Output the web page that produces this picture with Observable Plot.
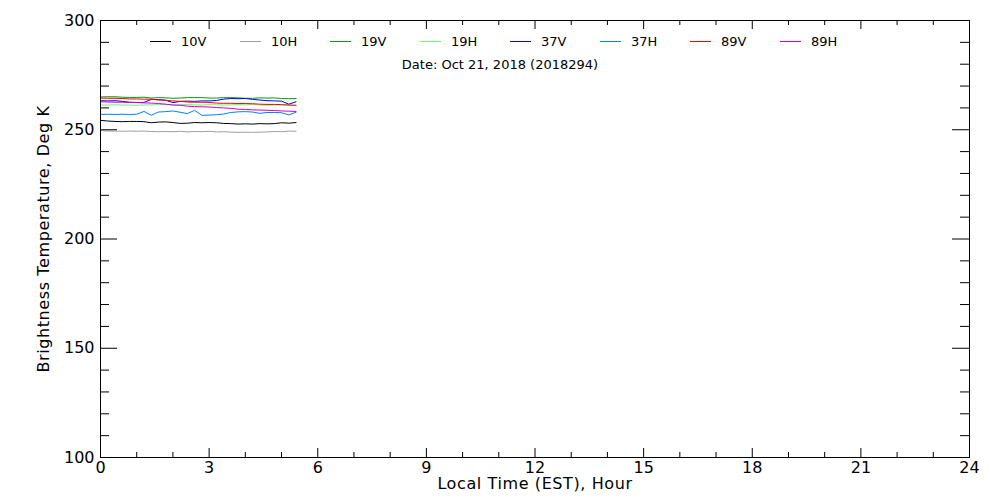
<!DOCTYPE html>
<html>
<head>
<meta charset="utf-8">
<script src="https://cdn.jsdelivr.net/npm/d3@7"></script>
<script src="https://cdn.jsdelivr.net/npm/@observablehq/plot@0.6"></script>
<style>
  html, body { margin: 0; padding: 0; background: #fff; }
  #wrap { position: relative; width: 1000px; height: 500px; font-family: "DejaVu Sans", sans-serif; }
  #legend { position: absolute; left: 150px; top: 33px; display: flex; font-size: 13px; color: #000; }
  .item { width: 90px; display: flex; align-items: center; height: 16px; }
  .sw { width: 21px; height: 0; border-top: 1px solid; margin-right: 10px; }
  #date { position: absolute; left: 0; width: 1000px; top: 57px; text-align: center; font-size: 13px; color: #000; }
  #chart svg g[aria-label="x-axis label"] text, #chart svg g[aria-label="y-axis label"] text { letter-spacing: 0.6px; }
</style>
</head>
<body>
<div id="wrap">
  <div id="chart"></div>
  <div id="legend"></div>
  <div id="date"></div>
</div>
<script>
// ---- data ----
const seriesNames = ["10V", "10H", "19V", "19H", "37V", "37H", "89V", "89H"];
const seriesColors = ["#000000", "#a0a0a0", "#00a000", "#66ff66", "#0000ff", "#0080ff", "#ff0000", "#d000d0"];
const hours = [0.0,0.2,0.4,0.6,0.8,1.0,1.2,1.4,1.6,1.8,2.0,2.2,2.4,2.6,2.8,3.0,3.2,3.4,3.6,3.8,4.0,4.2,4.4,4.6,4.8,5.0,5.2,5.4];
const tb10V = [254.3,254.0,253.8,253.7,253.8,253.8,253.7,253.2,253.5,253.6,253.3,252.9,253.0,253.3,253.2,253.3,253.2,252.9,252.8,252.6,252.7,252.6,252.8,252.7,252.8,253.2,253.0,253.3];
const tb10H = [249.6,249.4,249.4,249.3,249.4,249.3,249.4,249.2,249.1,249.2,249.1,249.3,249.0,249.2,249.1,249.3,249.0,249.1,248.9,248.8,248.9,248.8,248.9,249.0,249.2,249.1,249.4,249.3];
const tb19V = [265.0,265.1,265.1,264.9,264.8,264.8,264.9,264.5,264.7,264.6,264.4,264.5,264.7,264.7,264.7,264.5,264.5,264.7,264.7,264.6,264.4,264.4,264.6,264.5,264.6,264.3,264.2,264.3];
const tb19H = [261.3,261.3,261.4,261.3,261.3,261.2,261.3,261.4,261.5,261.5,261.4,261.5,261.5,261.4,261.3,261.5,261.4,261.3,261.4,261.5,261.4,261.6,261.3,261.2,261.3,261.3,261.2,261.2];
const tb37V = [263.3,263.2,263.3,263.0,262.6,262.5,262.5,263.9,263.8,263.5,262.4,263.0,263.1,263.0,263.2,263.2,263.4,264.0,264.3,264.2,264.3,263.9,263.6,263.3,263.2,263.1,261.7,262.8];
const tb37H = [257.0,257.1,257.0,257.1,257.0,257.1,258.4,256.6,258.1,258.3,258.6,258.0,257.4,258.9,256.6,256.7,256.9,257.2,257.9,258.2,258.3,258.1,257.5,257.9,257.9,257.8,256.8,258.0];
const tb89V = [264.5,264.4,264.4,264.3,264.1,264.1,264.0,264.0,263.6,263.5,263.2,263.0,262.7,262.6,262.6,262.5,262.2,262.1,262.1,262.0,262.0,261.9,261.7,261.6,261.6,261.5,261.3,261.2];
const tb89H = [262.8,262.7,262.6,262.6,262.5,262.4,262.3,262.2,262.0,261.7,261.3,261.2,260.8,260.6,260.5,260.4,260.2,260.0,259.8,259.4,259.3,259.1,259.0,258.9,258.8,258.6,258.5,258.4];
const seriesValues = [tb10V, tb10H, tb19V, tb19H, tb37V, tb37H, tb89V, tb89H];

const xMajorTicks = [0, 3, 6, 9, 12, 15, 18, 21, 24];
const xMinorTicks = d3.range(0, 25, 1).filter(d => d % 3 !== 0);
const yMajorTicks = [100, 150, 200, 250, 300];
const yMinorTicks = d3.range(100, 301, 10).filter(d => d % 50 !== 0);

const dateText = "Date: Oct 21, 2018 (2018294)";
const xLabel = "Local Time (EST), Hour";
const yLabel = "Brightness Temperature, Deg K";

// ---- build ----
const rows = [];
seriesNames.forEach((name, i) => {
  hours.forEach((t, j) => rows.push({series: name, t, v: seriesValues[i][j]}));
});

const W = 1000, H = 500, mL = 100, mR = 31, mT = 20, mB = 43;
const pw = W - mL - mR, ph = H - mT - mB;
const xMajLen = 9, xMinLen = 5, yMajLen = 17, yMinLen = 9;

const chart = Plot.plot({
  width: W, height: H,
  marginLeft: mL, marginRight: mR, marginTop: mT, marginBottom: mB,
  style: {fontFamily: "'DejaVu Sans', sans-serif", fontSize: "16px", color: "#000", background: "#fff"},
  x: {domain: [0, 24]},
  y: {domain: [100, 300]},
  color: {domain: seriesNames, range: seriesColors},
  marks: [
    Plot.line(rows, {x: "t", y: "v", z: "series", stroke: "series", strokeWidth: 1}),
    Plot.frame({stroke: "#000", strokeWidth: 1}),
    // bottom and top x ticks
    Plot.tickX(xMajorTicks, {x: d => d, insetTop: ph - xMajLen, stroke: "#000"}),
    Plot.tickX(xMinorTicks, {x: d => d, insetTop: ph - xMinLen, stroke: "#000"}),
    Plot.tickX(xMajorTicks, {x: d => d, insetBottom: ph - xMajLen, stroke: "#000"}),
    Plot.tickX(xMinorTicks, {x: d => d, insetBottom: ph - xMinLen, stroke: "#000"}),
    // left and right y ticks
    Plot.tickY(yMajorTicks, {y: d => d, insetRight: pw - yMajLen, stroke: "#000"}),
    Plot.tickY(yMinorTicks, {y: d => d, insetRight: pw - yMinLen, stroke: "#000"}),
    Plot.tickY(yMajorTicks, {y: d => d, insetLeft: pw - yMajLen, stroke: "#000"}),
    Plot.tickY(yMinorTicks, {y: d => d, insetLeft: pw - yMinLen, stroke: "#000"}),
    Plot.axisX({ticks: xMajorTicks, tickSize: 0, tickPadding: 4, tickFormat: d => String(d), fontSize: 16,
      label: xLabel, labelAnchor: "center", labelOffset: 31, labelArrow: "none"}),
    Plot.axisY({ticks: yMajorTicks, tickSize: 0, tickPadding: 6, tickFormat: d => String(d), fontSize: 16,
      label: yLabel, labelAnchor: "center", labelOffset: 63, labelArrow: "none"})
  ]
});
document.getElementById("chart").appendChild(chart);

// legend overlay
const legend = document.getElementById("legend");
seriesNames.forEach((name, i) => {
  const item = document.createElement("div");
  item.className = "item";
  const sw = document.createElement("span");
  sw.className = "sw";
  sw.style.borderTopColor = seriesColors[i];
  const lab = document.createElement("span");
  lab.textContent = name;
  item.appendChild(sw); item.appendChild(lab);
  legend.appendChild(item);
});
document.getElementById("date").textContent = dateText;
</script>
</body>
</html>
